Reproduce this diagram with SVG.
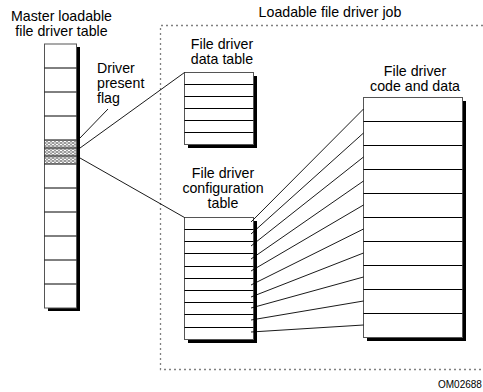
<svg xmlns="http://www.w3.org/2000/svg" width="483" height="392" viewBox="0 0 483 392">
  <style>
    .lbl { font-family: "Liberation Sans", Arial, sans-serif; font-size: 14.2px; fill: #000; }
    .tag { font-family: "Liberation Sans", Arial, sans-serif; font-size: 10px; fill: #000; }
    .box { fill: #fff; stroke: #555; stroke-width: 1; }
    .shadow { fill: #000; }
    .row { stroke: #000; stroke-width: 1; }
    .link { stroke: #000; stroke-width: 0.9; fill: none; }
    .frame { stroke: #808080; stroke-width: 1.3; fill: none; stroke-dasharray: 2 3; }
  </style>
  <defs>
    <pattern id="stipple" width="4" height="3" patternUnits="userSpaceOnUse">
      <rect width="4" height="3" fill="#9a9a9a"/>
      <rect x="0" y="0" width="2" height="1" fill="#fff"/>
      <rect x="2" y="1.5" width="2" height="1" fill="#fff"/>
    </pattern>
  </defs>
  <rect width="483" height="392" fill="#fff"/>

  <!-- job boundary (dashed, runs off the right edge) -->
  <path class="frame" d="M483 25.5 H160.5 V369.5 H483"/>
  <text class="lbl" x="330" y="17" text-anchor="middle">Loadable file driver job</text>

  <!-- Master loadable file driver table -->
  <g id="master-table">
    <text class="lbl" x="61.5" y="21" text-anchor="middle">Master loadable</text>
    <text class="lbl" x="61.5" y="36" text-anchor="middle">file driver table</text>
    <rect class="shadow" x="48" y="47" width="32" height="264"/>
    <rect class="box" x="44.5" y="44" width="32" height="264"/>
    <rect x="45" y="140.5" width="31" height="7" fill="url(#stipple)"/>
    <rect x="45" y="148.5" width="31" height="7" fill="url(#stipple)"/>
    <rect x="45" y="156.5" width="31" height="7" fill="url(#stipple)"/>
    <g class="row">
      <line x1="44.5" y1="68" x2="76.5" y2="68"/>
      <line x1="44.5" y1="92" x2="76.5" y2="92"/>
      <line x1="44.5" y1="116" x2="76.5" y2="116"/>
      <line x1="44.5" y1="140" x2="76.5" y2="140"/>
      <line x1="44.5" y1="148" x2="76.5" y2="148"/>
      <line x1="44.5" y1="156" x2="76.5" y2="156"/>
      <line x1="44.5" y1="164" x2="76.5" y2="164"/>
      <line x1="44.5" y1="188" x2="76.5" y2="188"/>
      <line x1="44.5" y1="212" x2="76.5" y2="212"/>
      <line x1="44.5" y1="236" x2="76.5" y2="236"/>
      <line x1="44.5" y1="260" x2="76.5" y2="260"/>
      <line x1="44.5" y1="284" x2="76.5" y2="284"/>
    </g>
  </g>

  <!-- Driver present flag label -->
  <g id="flag-label">
    <text class="lbl" x="97" y="73">Driver</text>
    <text class="lbl" x="97" y="88">present</text>
    <text class="lbl" x="97" y="103">flag</text>
  </g>

  <!-- File driver data table -->
  <g id="data-table">
    <text class="lbl" x="222" y="49" text-anchor="middle">File driver</text>
    <text class="lbl" x="222" y="64" text-anchor="middle">data table</text>
    <rect class="shadow" x="188" y="76" width="69" height="72"/>
    <rect class="box" x="184.5" y="72.5" width="69" height="72"/>
    <g class="row">
      <line x1="184.5" y1="84.5" x2="253.5" y2="84.5"/>
      <line x1="184.5" y1="96.5" x2="253.5" y2="96.5"/>
      <line x1="184.5" y1="108.5" x2="253.5" y2="108.5"/>
      <line x1="184.5" y1="120.5" x2="253.5" y2="120.5"/>
      <line x1="184.5" y1="132.5" x2="253.5" y2="132.5"/>
    </g>
  </g>

  <!-- File driver configuration table -->
  <g id="config-table">
    <text class="lbl" x="223" y="178" text-anchor="middle">File driver</text>
    <text class="lbl" x="223" y="193" text-anchor="middle">configuration</text>
    <text class="lbl" x="223" y="208" text-anchor="middle">table</text>
    <rect class="shadow" x="188" y="221" width="69" height="122"/>
    <rect class="box" x="184.5" y="217.5" width="69" height="122"/>
    <g class="row">
      <line x1="184.5" y1="229.5" x2="253.5" y2="229.5"/>
      <line x1="184.5" y1="241.5" x2="253.5" y2="241.5"/>
      <line x1="184.5" y1="253.5" x2="253.5" y2="253.5"/>
      <line x1="184.5" y1="266.5" x2="253.5" y2="266.5"/>
      <line x1="184.5" y1="278.5" x2="253.5" y2="278.5"/>
      <line x1="184.5" y1="290.5" x2="253.5" y2="290.5"/>
      <line x1="184.5" y1="302.5" x2="253.5" y2="302.5"/>
      <line x1="184.5" y1="314.5" x2="253.5" y2="314.5"/>
      <line x1="184.5" y1="327.5" x2="253.5" y2="327.5"/>
    </g>
  </g>

  <!-- File driver code and data -->
  <g id="code-data">
    <text class="lbl" x="415" y="75.5" text-anchor="middle">File driver</text>
    <text class="lbl" x="415" y="90.5" text-anchor="middle">code and data</text>
    <rect class="shadow" x="367" y="101" width="99" height="240"/>
    <rect class="box" x="363.5" y="97.5" width="99" height="240"/>
    <g class="row">
      <line x1="363.5" y1="121.5" x2="462.5" y2="121.5"/>
      <line x1="363.5" y1="145.5" x2="462.5" y2="145.5"/>
      <line x1="363.5" y1="169.5" x2="462.5" y2="169.5"/>
      <line x1="363.5" y1="193.5" x2="462.5" y2="193.5"/>
      <line x1="363.5" y1="217.5" x2="462.5" y2="217.5"/>
      <line x1="363.5" y1="241.5" x2="462.5" y2="241.5"/>
      <line x1="363.5" y1="265.5" x2="462.5" y2="265.5"/>
      <line x1="363.5" y1="289.5" x2="462.5" y2="289.5"/>
      <line x1="363.5" y1="313.5" x2="462.5" y2="313.5"/>
    </g>
  </g>

  <!-- connectors -->
  <g id="connectors" class="link">
    <line x1="80" y1="138" x2="108" y2="109"/>
    <line x1="80" y1="148" x2="184.5" y2="72.5"/>
    <line x1="80" y1="158" x2="184.5" y2="217.5"/>
    <line x1="251" y1="222" x2="363.5" y2="109"/>
    <line x1="251" y1="234" x2="363.5" y2="133"/>
    <line x1="251" y1="246" x2="363.5" y2="157"/>
    <line x1="251" y1="259" x2="363.5" y2="181"/>
    <line x1="251" y1="271" x2="363.5" y2="205"/>
    <line x1="251" y1="285" x2="363.5" y2="229"/>
    <line x1="251" y1="297" x2="363.5" y2="253"/>
    <line x1="251" y1="308" x2="363.5" y2="277"/>
    <line x1="251" y1="320" x2="363.5" y2="301"/>
    <line x1="251" y1="332" x2="363.5" y2="325"/>
  </g>

  <text class="tag" x="438" y="388">OM02688</text>
</svg>
